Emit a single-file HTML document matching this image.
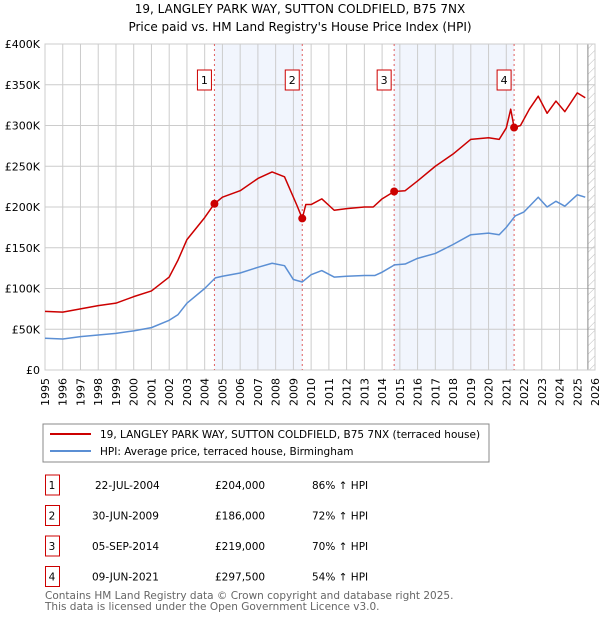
<!DOCTYPE html>
<html><head><meta charset="utf-8"><style>
body{margin:0;background:#fff;font-family:"DejaVu Sans","Liberation Sans",sans-serif;}
svg text{font-family:"DejaVu Sans","Liberation Sans",sans-serif;}
</style></head><body>
<svg id="c" width="600" height="620" xmlns="http://www.w3.org/2000/svg">
<defs><pattern id="hatch" width="6" height="6" patternUnits="userSpaceOnUse" patternTransform="rotate(45)"><line x1="0" y1="0" x2="0" y2="6" stroke="#bbb" stroke-width="1"/></pattern></defs>
<text x="300" y="13" text-anchor="middle" font-size="12">19, LANGLEY PARK WAY, SUTTON COLDFIELD, B75 7NX</text>
<text x="300" y="31" text-anchor="middle" font-size="12">Price paid vs. HM Land Registry's House Price Index (HPI)</text>
<g id="plot"></g>
<rect x="43" y="424" width="446" height="38" fill="#fff" stroke="#888"/>
<line x1="50" y1="434" x2="91" y2="434" stroke="#cc0000" stroke-width="2"/>
<text x="100" y="438" font-size="10.5">19, LANGLEY PARK WAY, SUTTON COLDFIELD, B75 7NX (terraced house)</text>
<line x1="50" y1="451" x2="91" y2="451" stroke="#5b8fd4" stroke-width="2"/>
<text x="100" y="455" font-size="10.5">HPI: Average price, terraced house, Birmingham</text>
<g id="table" font-size="10.5"></g>
<text x="45" y="599" font-size="10.5" fill="#666">Contains HM Land Registry data © Crown copyright and database right 2025.</text>
<text x="45" y="610" font-size="10.5" fill="#666">This data is licensed under the Open Government Licence v3.0.</text>
</svg>
<script>
const yTicks=[0,50,100,150,200,250,300,350,400];
const yTickLabels=["£0","£50K","£100K","£150K","£200K","£250K","£300K","£350K","£400K"];
const years=[1995,1996,1997,1998,1999,2000,2001,2002,2003,2004,2005,2006,2007,2008,2009,2010,2011,2012,2013,2014,2015,2016,2017,2018,2019,2020,2021,2022,2023,2024,2025,2026];
const hpiT=[1995,1996,1997,1998,1999,2000,2001,2002,2002.5,2003,2004,2004.6,2005,2006,2007,2007.8,2008.5,2009,2009.5,2010,2010.6,2011.3,2012,2013,2013.6,2014,2014.7,2015.3,2016,2017,2018,2019,2020,2020.6,2021,2021.5,2022,2022.8,2023.3,2023.8,2024.3,2025,2025.45];
const hpiV=[39,38,41,43,45,48,52,61,68,82,100,113,115,119,126,131,128,111,108,117,122,114,115,116,116,120,129,130,137,143,154,166,168,166,175,189,194,212,200,207,201,215,212];
const propT=[1995,1996,1997,1998,1999,2000,2001,2002,2002.5,2003,2004,2004.55,2005,2006,2007,2007.8,2008.5,2009.2,2009.5,2009.7,2010,2010.6,2011.3,2012,2013,2013.5,2014,2014.68,2015.3,2016,2017,2018,2019,2020,2020.6,2021,2021.25,2021.44,2021.8,2022.3,2022.8,2023.3,2023.8,2024.3,2025,2025.45];
const propV=[72,71,75,79,82,90,97,114,135,160,187,204,212,220,235,243,237,202,186,203,203,210,196,198,200,200,210,219,220,232,250,265,283,285,283,297,320,297.5,300,320,336,315,330,317,340,334];
const saleT=[2004.55,2009.5,2014.68,2021.44];
const saleV=[204,186,219,297.5];
const saleLabels=["1","2","3","4"];
const saleDates=["22-JUL-2004","30-JUN-2009","05-SEP-2014","09-JUN-2021"];
const salePrices=["£204,000","£186,000","£219,000","£297,500"];
const saleHpi=["86% ↑ HPI","72% ↑ HPI","70% ↑ HPI","54% ↑ HPI"];
const dataEnd=2025.6;

const X0=45,X1=595,Y0=370,Y1=44;
const xs=t=>X0+(t-1995)/(2026-1995)*(X1-X0);
const ys=v=>Y0-v/400*(Y0-Y1);
const NS="http://www.w3.org/2000/svg";
const g=document.getElementById('plot');
function mk(tag,attrs,parent){const e=document.createElementNS(NS,tag);for(const k in attrs)e.setAttribute(k,attrs[k]);(parent||g).appendChild(e);return e;}
for(let i=0;i<saleT.length;i+=2){
 const r=mk('rect',{x:xs(saleT[i]),y:Y1,width:xs(saleT[i+1])-xs(saleT[i]),height:Y0-Y1,fill:'#f1f5fd'});
 
 
}
years.forEach(y=>{
 const l=mk('line',{x1:xs(y),x2:xs(y),y1:Y1,y2:Y0,stroke:'#cccccc','stroke-width':1});
 
 
 const t=mk('text',{transform:`translate(${xs(y)+4},378) rotate(-90)`,'text-anchor':'end','font-size':11});
 t.textContent=y;
 
 
});
yTicks.forEach((v,i)=>{
 const l=mk('line',{x1:X0,x2:X1,y1:ys(v),y2:ys(v),stroke:'#cccccc','stroke-width':1});
 
 
 const t=mk('text',{x:40,y:ys(v)+4,'text-anchor':'end','font-size':11});
 t.textContent=yTickLabels[i];
 
 
});
const h=mk('rect',{x:xs(dataEnd),y:Y1,width:X1-xs(dataEnd),height:Y0-Y1,fill:'url(#hatch)'});


const hl=mk('line',{x1:xs(dataEnd),x2:xs(dataEnd),y1:Y1,y2:Y0,stroke:'#888'});


const ax=mk('rect',{x:X0,y:Y1,width:X1-X0,height:Y0-Y1,fill:'none',stroke:'#cccccc'});


saleT.forEach((t,i)=>{
 const l=mk('line',{x1:xs(t),x2:xs(t),y1:Y1,y2:Y0,stroke:'#e06060','stroke-dasharray':'2,3'});
 
 
 const b=mk('rect',{x:xs(t)-17,y:70,width:14,height:20,fill:'#fff',stroke:'#cc0000'});
 
 
 const tx=mk('text',{x:xs(t)-10,y:84,'text-anchor':'middle','font-size':11});
 tx.textContent=saleLabels[i];
 
 
});
function line(T,V,color,name){
 const p=mk('polyline',{points:T.map((t,i)=>xs(t)+','+ys(V[i])).join(' '),fill:'none',stroke:color,'stroke-width':1.5,'stroke-linejoin':'round'});
 
 
}
line(hpiT,hpiV,'#5b8fd4','hpi-line');
line(propT,propV,'#cc0000','property-line');
saleT.forEach((t,i)=>{
 const c=mk('circle',{cx:xs(t),cy:ys(saleV[i]),r:4,fill:'#cc0000'});
 
 
});
const tb=document.getElementById('table');
saleT.forEach((t,i)=>{
 const y=482+i*30.5;
 const b=mk('rect',{x:45.5,y:y-7,width:14,height:20,fill:'#fff',stroke:'#cc0000'},tb);
 
 
 const cells=[[52,saleLabels[i],'middle'],[i==0?95:92,saleDates[i],'start'],[215,salePrices[i],'start'],[312,saleHpi[i],'start']];
 cells.forEach((c,j)=>{
  const e=mk('text',{x:c[0],y:y+7,'text-anchor':c[2]},tb);
  e.textContent=c[1];
  
  
 });
});
</script>
</body></html>
